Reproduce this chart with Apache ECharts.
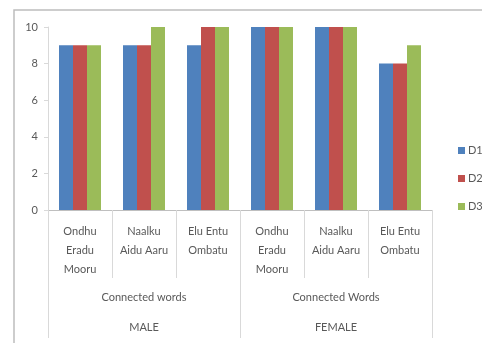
<!DOCTYPE html>
<html>
<head>
<meta charset="utf-8">
<script src="https://cdn.jsdelivr.net/npm/echarts@6/dist/echarts.min.js"></script>
<style>
html,body{margin:0;padding:0;background:#fff;}
#chart{width:482px;height:343px;}
</style>
</head>
<body>
<div id="chart"></div>
<script>
// Word-group categories, grouped by gender
const categories = ['Ondhu\nEradu\nMooru', 'Naalku\nAidu Aaru', 'Elu Entu\nOmbatu',
                    'Ondhu\nEradu\nMooru', 'Naalku\nAidu Aaru', 'Elu Entu\nOmbatu'];
const subGroups = ['Connected words', 'Connected Words'];
const genders = ['MALE', 'FEMALE'];
const seriesNames = ['D1', 'D2', 'D3'];
const d1 = [9, 9, 9, 10, 10, 8];
const d2 = [9, 9, 10, 10, 10, 8];
const d3 = [9, 10, 10, 10, 10, 9];
const yTicks = { min: 0, max: 10, interval: 2 };

const colors = ['#4F81BD', '#C0504D', '#9BBB59'];
const font = 'Lato, "Open Sans", sans-serif';
const textColor = '#595959';
const lineColor = '#BFBFBF';

const chart = echarts.init(document.getElementById('chart'));
const values = [d1, d2, d3];

chart.setOption({
  animation: false,
  color: colors,
  grid: { left: 48, right: 50, top: 27, bottom: 133 },
  legend: {
    orient: 'vertical',
    left: 453,
    top: 140,
    itemWidth: 7,
    itemHeight: 7,
    itemGap: 17,
    icon: 'rect',
    textStyle: { fontFamily: font, fontSize: 11, color: textColor, padding: [0, 0, 0, -2] },
    data: seriesNames
  },
  graphic: [{
    type: 'polyline',
    shape: { points: [[14, 343], [14, 10], [482, 10]] },
    style: { stroke: '#BDBDBD', lineWidth: 1.5, fill: null },
    silent: true
  }],
  xAxis: [
    {
      type: 'category',
      data: categories,
      position: 'bottom',
      axisLine: { show: true, lineStyle: { color: lineColor } },
      axisTick: { show: true, length: 68, lineStyle: { color: '#D9D9D9' } },
      axisLabel: { interval: 0, margin: 12, fontFamily: font, fontSize: 11, color: textColor, lineHeight: 19 }
    },
    {
      type: 'category',
      data: subGroups,
      position: 'bottom',
      axisLine: { show: false },
      axisTick: { show: true, length: 128, lineStyle: { color: '#D9D9D9' } },
      axisLabel: { interval: 0, margin: 82, fontFamily: font, fontSize: 11, color: textColor }
    },
    {
      type: 'category',
      data: genders,
      position: 'bottom',
      axisLine: { show: false },
      axisTick: { show: false },
      axisLabel: { interval: 0, margin: 112, fontFamily: font, fontSize: 11, color: textColor }
    }
  ],
  yAxis: {
    type: 'value',
    min: yTicks.min,
    max: yTicks.max,
    interval: yTicks.interval,
    axisLine: { show: true, lineStyle: { color: '#D9D9D9' } },
    axisTick: { show: true, length: 4, lineStyle: { color: '#D9D9D9' } },
    splitLine: { show: false },
    axisLabel: { margin: 10, fontFamily: font, fontSize: 11, color: textColor }
  },
  series: seriesNames.map((name, i) => ({
    name,
    type: 'bar',
    xAxisIndex: 0,
    data: values[i],
    barWidth: 14,
    barGap: '0%'
  }))
});
</script>
</body>
</html>
